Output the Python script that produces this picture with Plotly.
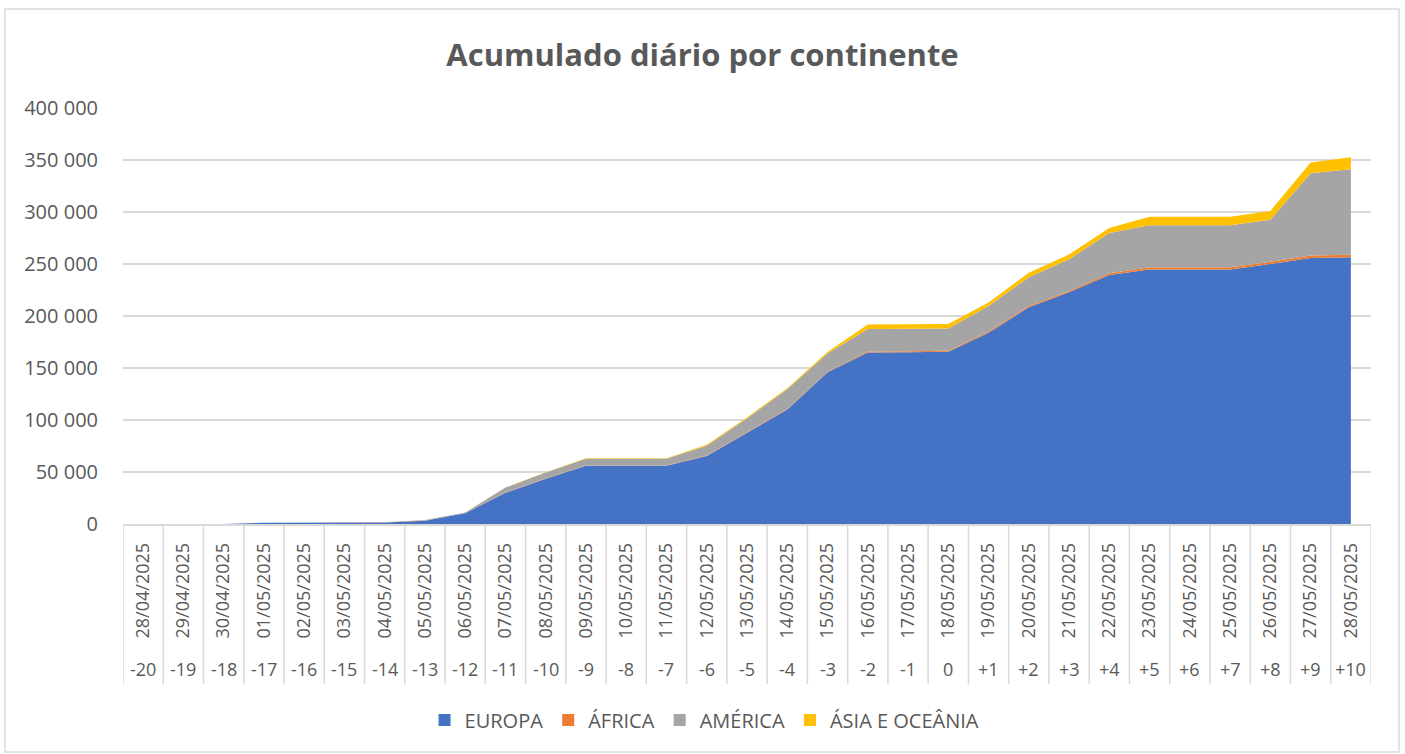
import plotly.graph_objects as go

dates = ["28/04/2025", "29/04/2025", "30/04/2025", "01/05/2025", "02/05/2025", "03/05/2025",
         "04/05/2025", "05/05/2025", "06/05/2025", "07/05/2025", "08/05/2025", "09/05/2025",
         "10/05/2025", "11/05/2025", "12/05/2025", "13/05/2025", "14/05/2025", "15/05/2025",
         "16/05/2025", "17/05/2025", "18/05/2025", "19/05/2025", "20/05/2025", "21/05/2025",
         "22/05/2025", "23/05/2025", "24/05/2025", "25/05/2025", "26/05/2025", "27/05/2025",
         "28/05/2025"]
rel_days = ["-20", "-19", "-18", "-17", "-16", "-15", "-14", "-13", "-12", "-11", "-10", "-9",
            "-8", "-7", "-6", "-5", "-4", "-3", "-2", "-1", "0", "+1", "+2", "+3", "+4", "+5",
            "+6", "+7", "+8", "+9", "+10"]

europa = [0, 0, 0, 1200, 1400, 1400, 1500, 3200, 10300, 30000, 43600, 56000, 56000, 56000,
          65400, 88000, 110000, 145800, 165000, 165200, 165700, 184000, 208300, 222800,
          239400, 244600, 244600, 244600, 250000, 255800, 256400]
africa = [0, 0, 0, 0, 100, 100, 100, 100, 100, 200, 300, 300, 300, 300, 400, 500, 600, 700,
          900, 900, 900, 1000, 1200, 1300, 1600, 2200, 2200, 2200, 2200, 2300, 2600]
america = [0, 0, 0, 100, 200, 200, 200, 500, 600, 4800, 5500, 6500, 6500, 6500, 9500, 13000,
           19000, 17500, 21500, 21500, 21500, 24600, 27700, 30500, 38800, 40400, 40400, 40400,
           40300, 79200, 82000]
asia = [0, 0, 0, 0, 0, 0, 0, 0, 100, 200, 300, 500, 500, 500, 800, 900, 1000, 1500, 4500,
        4400, 4300, 3400, 4500, 4500, 4800, 8300, 8300, 8300, 8400, 10200, 11600]

series = [("EUROPA", europa, "#4472C4"), ("ÁFRICA", africa, "#ED7D31"),
          ("AMÉRICA", america, "#A5A5A5"), ("ÁSIA E OCEÂNIA", asia, "#FFC000")]

FONT = "Open Sans"
GREY = "#595959"
LINE = "#D9D9D9"

fig = go.Figure()
for name, vals, col in series:
    fig.add_trace(go.Scatter(
        x=dates, y=vals, name=name, mode="lines", stackgroup="one",
        line=dict(width=0, color=col), fillcolor=col, showlegend=False,
        legendgroup=name,
    ))
# legend entries as square swatches
for name, vals, col in series:
    fig.add_trace(go.Scatter(
        x=[None], y=[None], name=name, mode="markers", legendgroup=name,
        marker=dict(symbol="square", size=12, color=col), showlegend=True,
        hoverinfo="skip",
    ))

shapes = []
for i in range(len(dates) + 1):
    shapes.append(dict(type="line", xref="x", yref="paper", x0=i - 0.5, x1=i - 0.5,
                       y0=0, y1=-0.385, line=dict(color=LINE, width=1.5), layer="below"))
shapes.append(dict(type="rect", xref="paper", yref="paper", x0=-0.0946, x1=1.0224,
                   y0=-0.548, y1=1.238, line=dict(color=LINE, width=1.5)))

annotations = []
for d, r in zip(dates, rel_days):
    annotations.append(dict(x=d, y=-0.3486, xref="x", yref="paper", text=r, showarrow=False,
                            font=dict(family=FONT, size=18, color=GREY),
                            xanchor="center", yanchor="middle"))

fig.update_layout(
    width=1405, height=754,
    margin=dict(l=123, r=34, t=108, b=230),
    paper_bgcolor="white", plot_bgcolor="white",
    separators=", ",
    title=dict(text="<b>Acumulado diário por continente</b>", x=0.5, xanchor="center",
               y=0.927, yanchor="middle",
               font=dict(family=FONT, size=31, color=GREY)),
    font=dict(family=FONT, color=GREY),
    xaxis=dict(type="category", range=[-0.5, len(dates) - 0.5], tickangle=-90,
               showgrid=False, showline=True, linecolor=LINE, linewidth=1.5,
               ticks="outside", ticklen=10, tickcolor="rgba(0,0,0,0)",
               tickfont=dict(family=FONT, size=18, color=GREY), zeroline=False),
    yaxis=dict(range=[0, 400000], dtick=50000, tickformat=",d", showgrid=True,
               gridcolor=LINE, gridwidth=1.5, zeroline=False, showline=False,
               ticks="outside", ticklen=20, tickcolor="rgba(0,0,0,0)",
               tickfont=dict(family=FONT, size=20, color=GREY)),
    legend=dict(orientation="h", x=0.466, xanchor="center", y=-0.471, yanchor="middle",
                font=dict(family=FONT, size=20, color=GREY), traceorder="normal",
                itemwidth=30),
    shapes=shapes, annotations=annotations,
    hovermode="x unified",
)

fig.write_html("out.html", config={"displayModeBar": False},
               post_script="document.body.style.margin='0px';document.body.style.overflow='hidden';")
